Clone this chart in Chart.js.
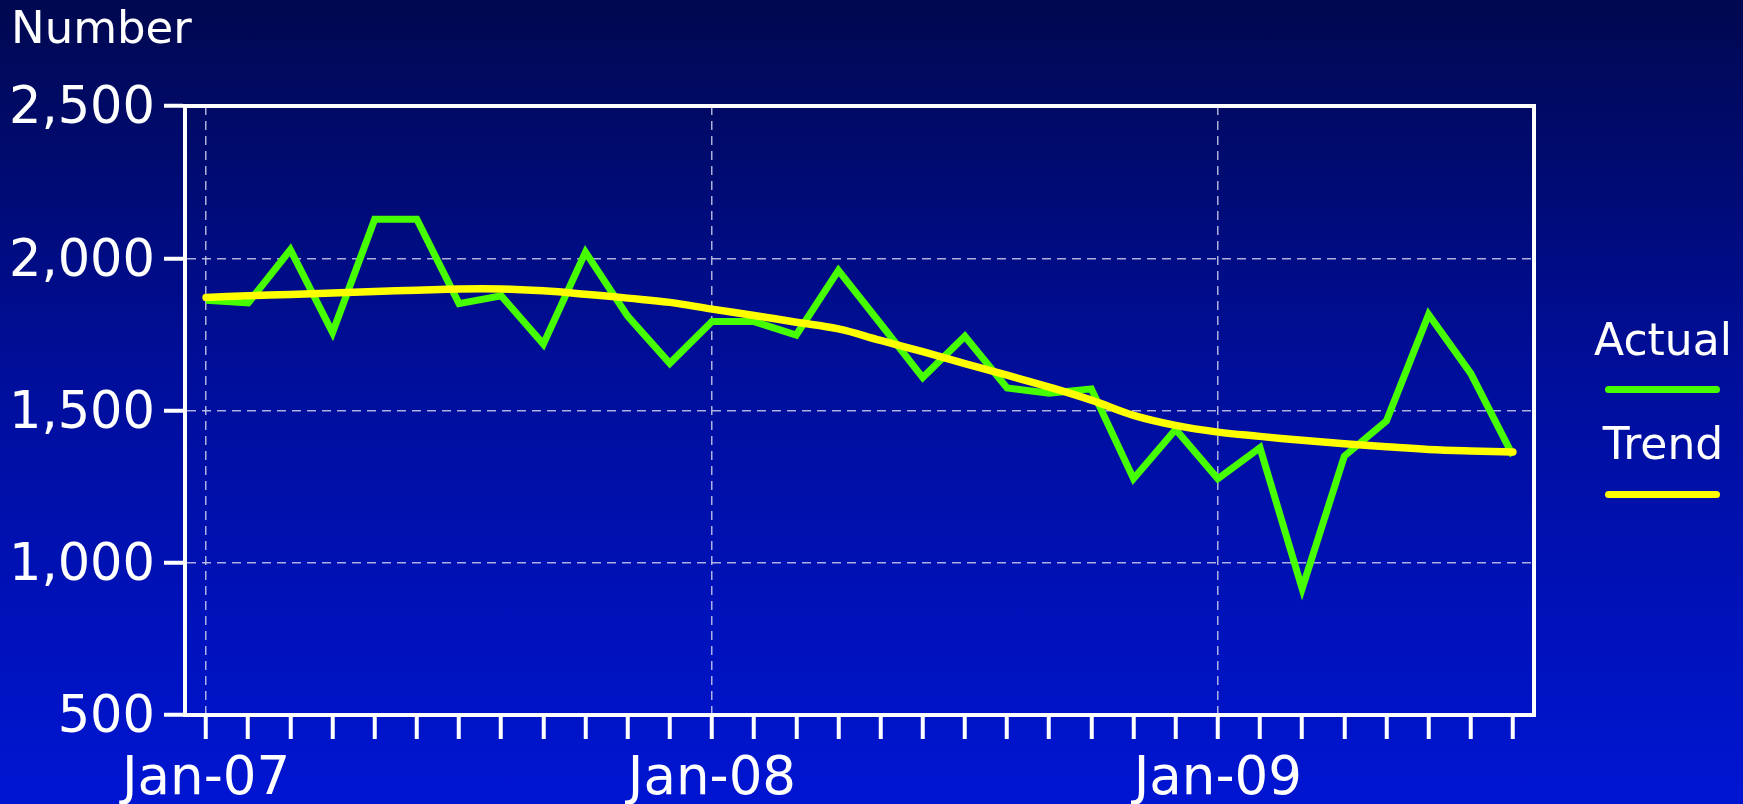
<!DOCTYPE html>
<html>
<head>
<meta charset="utf-8">
<title>Number</title>
<script src="https://cdn.jsdelivr.net/npm/chart.js@4"></script>
<style>
  html, body { margin: 0; padding: 0; }
  body {
    width: 1743px; height: 804px; overflow: hidden;
    background: linear-gradient(to bottom, #00084f 0%, #000e98 45%, #0015d2 100%);
    font-family: "DejaVu Sans", Verdana, sans-serif;
    color: #fff;
  }
  #wrap { position: relative; width: 1743px; height: 804px; }
  #titre {
    position: absolute; left: 11px; top: 5px;
    font-size: 45px; line-height: 1;
  }
  .leg-txt {
    position: absolute; left: 1583px; width: 160px;
    text-align: center; font-size: 44px; line-height: 1;
  }
  .leg-line {
    position: absolute; left: 1605px; width: 115px; height: 7px;
    border-radius: 4px;
  }
</style>
</head>
<body>
<div id="wrap">
  <canvas id="grafico"></canvas>
  <div id="titre">Number</div>
  <div id="legende"></div>
</div>
<script>
  // mois, Jan-07 .. Aug-09
  const mois = [
    'Jan-07', 'Feb-07', 'Mar-07', 'Apr-07', 'May-07', 'Jun-07',
    'Jul-07', 'Aug-07', 'Sep-07', 'Oct-07', 'Nov-07', 'Dec-07',
    'Jan-08', 'Feb-08', 'Mar-08', 'Apr-08', 'May-08', 'Jun-08',
    'Jul-08', 'Aug-08', 'Sep-08', 'Oct-08', 'Nov-08', 'Dec-08',
    'Jan-09', 'Feb-09', 'Mar-09', 'Apr-09', 'May-09', 'Jun-09',
    'Jul-09', 'Aug-09',
  ];

  const actual = [
    1862, 1853, 2028, 1756, 2128, 2128, 1851, 1877, 1718, 2020, 1810, 1655,
    1792, 1792, 1748, 1960, 1785, 1608, 1744, 1574, 1557, 1571, 1276, 1438,
    1276, 1378, 915, 1350, 1466, 1815, 1622, 1352,
  ];

  const trend = [
    1871, 1877, 1881, 1886, 1891, 1895, 1899, 1899, 1893, 1882, 1869, 1855,
    1833, 1812, 1790, 1768, 1730, 1693, 1654, 1616, 1577, 1534, 1484, 1451,
    1429, 1415, 1402, 1391, 1381, 1372, 1367, 1364,
  ];

  const yTicks = [500, 1000, 1500, 2000, 2500];

  const c = {
    actual: '#46ff00',
    trend: '#ffff00',
    blanc: '#ffffff',
    grille: 'rgba(205, 205, 235, 0.85)',
    rien: 'rgba(0,0,0,0)',
  };

  // cadre blanc en haut et à droite de la zone de tracé
  const cadre = {
    id: 'cadre',
    afterDraw(chart) {
      const { ctx, chartArea: a } = chart;
      ctx.save();
      ctx.strokeStyle = c.blanc;
      ctx.lineWidth = 4;
      ctx.beginPath();
      ctx.moveTo(a.left - 2, a.top);
      ctx.lineTo(a.right, a.top);
      ctx.lineTo(a.right, a.bottom + 2);
      ctx.stroke();
      ctx.restore();
    },
  };

  const chart = new Chart(document.getElementById('grafico'), {
    type: 'line',
    data: {
      labels: mois,
      datasets: [
        {
          label: 'Actual',
          data: actual,
          borderColor: c.actual,
          borderWidth: 7,
          borderJoinStyle: 'miter',
          pointRadius: 0,
          tension: 0,
          order: 1,
        },
        {
          label: 'Trend',
          data: trend,
          borderColor: c.trend,
          borderWidth: 7.5,
          borderCapStyle: 'round',
          pointRadius: 0,
          tension: 0.4,
          order: 0,
        },
      ],
    },
    options: {
      responsive: true,
      maintainAspectRatio: false,
      animation: false,
      layout: { padding: { top: 106, right: 209, left: 0, bottom: 0 } },
      plugins: {
        legend: { display: false },
        tooltip: { enabled: false },
        title: { display: false },
      },
      scales: {
        x: {
          offset: true,
          afterFit: (s) => { s.height = 89; },
          ticks: {
            autoSkip: false,
            maxRotation: 0,
            color: c.blanc,
            padding: 9,
            font: { family: '"DejaVu Sans", Verdana, sans-serif', size: 53 },
            callback: (v, i) => (i % 12 === 0 ? mois[i] : ''),
          },
          grid: {
            color: (ctx) => (ctx.index % 12 === 0 ? c.grille : c.rien),
            lineWidth: 1.5,
            tickColor: c.blanc,
            tickWidth: 4,
            tickLength: 24,
          },
          border: { color: c.blanc, width: 4, dash: [9, 6] },
        },
        y: {
          min: 500,
          max: 2500,
          afterFit: (s) => { s.width = 185; },
          afterBuildTicks: (s) => { s.ticks = yTicks.map((v) => ({ value: v })); },
          ticks: {
            color: c.blanc,
            padding: 9,
            labelOffset: 4,
            font: { family: '"DejaVu Sans", Verdana, sans-serif', size: 51 },
            callback: (v) => Number(v).toLocaleString('en-US'),
          },
          grid: {
            color: c.grille,
            lineWidth: 1.5,
            tickColor: c.blanc,
            tickWidth: 4,
            tickLength: 21,
          },
          border: { color: c.blanc, width: 4, dash: [9, 6] },
        },
      },
    },
    plugins: [cadre],
  });

  // légende à droite : texte au-dessus du trait
  (function legende() {
    const box = document.getElementById('legende');
    const tops = [{ txt: 318, trait: 385.5 }, { txt: 422, trait: 490.5 }];
    chart.data.datasets.forEach((ds, i) => {
      const t = document.createElement('div');
      t.className = 'leg-txt';
      t.style.top = tops[i].txt + 'px';
      t.textContent = ds.label;
      const l = document.createElement('div');
      l.className = 'leg-line';
      l.style.top = tops[i].trait + 'px';
      l.style.background = ds.borderColor;
      box.appendChild(t);
      box.appendChild(l);
    });
  })();
</script>
</body>
</html>
